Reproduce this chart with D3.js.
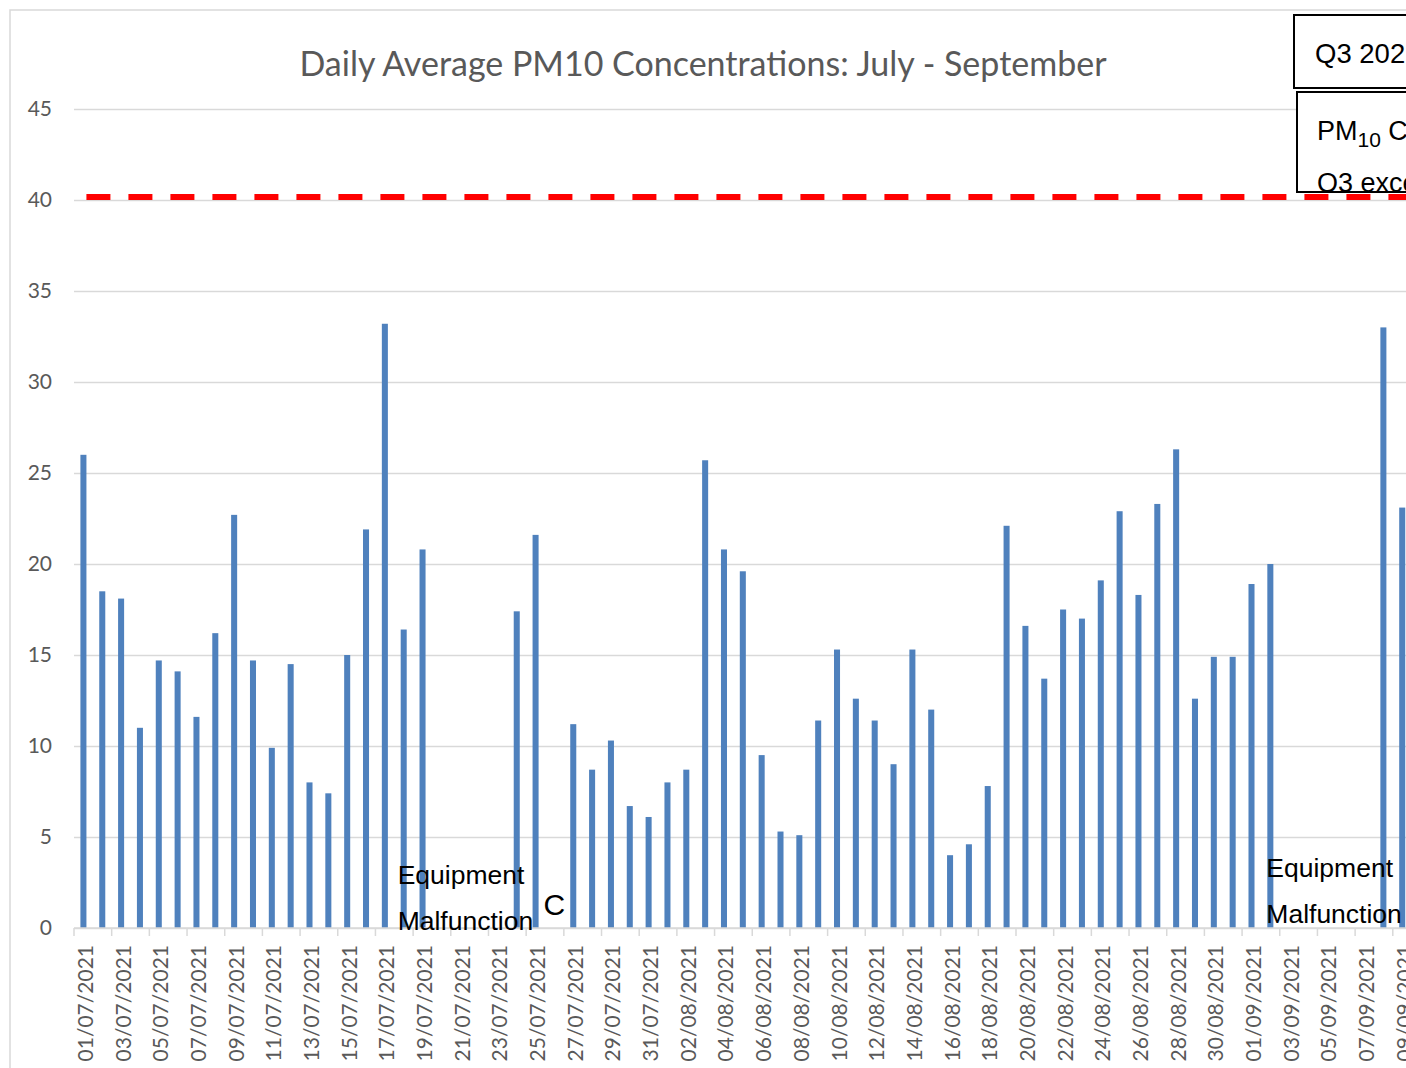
<!DOCTYPE html>
<html>
<head>
<meta charset="utf-8">
<script src="https://cdn.jsdelivr.net/npm/d3@7"></script>
<style>
  html, body { margin: 0; padding: 0; background: #fff; overflow: hidden; }
  svg { display: block; }
</style>
</head>
<body>
<svg id="chart" width="1406" height="1068"></svg>
<script>
// categories: one bar per day, 01/07/2021 .. 09/09/2021
var firstDay = new Date(2021, 6, 1);
var lastDay = new Date(2021, 8, 9);
var days = d3.timeDay.range(firstDay, d3.timeDay.offset(lastDay, 1)).map(d3.timeFormat("%d/%m/%Y"));

// daily average PM10 (null = no data)
var pm10 = [
  26.0, 18.5, 18.1, 11.0, 14.7, 14.1, 11.6, 16.2, 22.7, 14.7,
  9.9, 14.5, 8.0, 7.4, 15.0, 21.9, 33.2, 16.4, 20.8, null,
  null, null, null, 17.4, 21.6, null, 11.2, 8.7, 10.3, 6.7,
  6.1,
  8.0, 8.7, 25.7, 20.8, 19.6, 9.5, 5.3, 5.1, 11.4, 15.3,
  12.6, 11.4, 9.0, 15.3, 12.0, 4.0, 4.6, 7.8, 22.1, 16.6,
  13.7, 17.5, 17.0, 19.1, 22.9, 18.3, 23.3, 26.3, 12.6, 14.9,
  14.9,
  18.9, 20.0, null, null, null, null, null, 33.0, 23.1
];

var limitValue = 40;           // annual mean objective
var yTicks = [0, 5, 10, 15, 20, 25, 30, 35, 40, 45];

// notes written on the plot
var notes = [
  { day: "18/07/2021", lines: ["Equipment", "Malfunction"], dx: -3, dy: 0 },
  { day: "02/09/2021", lines: ["Equipment", "Malfunction"], dx: -1, dy: -7 }
];
var markC = { day: "26/07/2021", text: "C" };

var svg = d3.select("#chart");
var W = 1406;
var plotLeft = 74, step = 18.84, plotBottom = 928, plotTop = 109;

var x = d3.scaleBand()
    .domain(days)
    .range([plotLeft, plotLeft + days.length * step])
    .paddingInner(0.68)
    .paddingOuter(0.34);

var y = d3.scaleLinear().domain([0, 45]).range([plotBottom, plotTop]);

// chart frame
svg.append("rect")
    .attr("x", 10).attr("y", 10)
    .attr("width", W + 20).attr("height", 1100)
    .attr("fill", "none")
    .attr("stroke", "#d9d9d9")
    .attr("stroke-width", 1.5);

// title
svg.append("text")
    .attr("x", 703).attr("y", 76)
    .attr("text-anchor", "middle")
    .attr("font-family", "Lato, 'Open Sans', sans-serif")
    .attr("font-size", 34)
    .attr("fill", "#595959")
    .text("Daily Average PM10 Concentrations: July - September");

// gridlines + y labels
var yAxis = svg.append("g")
    .attr("transform", "translate(" + plotLeft + ",0)")
    .call(d3.axisLeft(y).tickValues(yTicks).tickSize(-(W - plotLeft)).tickPadding(22));
yAxis.select(".domain").remove();
yAxis.selectAll(".tick line").attr("stroke", "#d9d9d9").attr("stroke-width", 1.5);
yAxis.selectAll(".tick text")
    .attr("font-family", "Lato, 'Open Sans', sans-serif")
    .attr("font-size", 21)
    .attr("fill", "#595959");

// bars
svg.append("g")
  .selectAll("rect")
  .data(days.map(function (d, i) { return { day: d, v: pm10[i] }; }).filter(function (d) { return d.v != null; }))
  .enter().append("rect")
    .attr("x", function (d) { return x(d.day); })
    .attr("y", function (d) { return y(d.v); })
    .attr("width", x.bandwidth())
    .attr("height", function (d) { return y(0) - y(d.v); })
    .attr("fill", "#4f81bd");

// x axis line + ticks every two days
var xa = svg.append("g").attr("transform", "translate(0," + plotBottom + ")");
xa.append("line")
    .attr("x1", plotLeft).attr("x2", W)
    .attr("stroke", "#d9d9d9").attr("stroke-width", 1.5);
xa.selectAll("line.tk")
  .data(days.filter(function (d, i) { return i % 2 === 0; }))
  .enter().append("line")
    .attr("class", "tk")
    .attr("x1", function (d) { return x(d) - x.step() * 0.34; })
    .attr("x2", function (d) { return x(d) - x.step() * 0.34; })
    .attr("y1", 0).attr("y2", 8)
    .attr("stroke", "#d9d9d9").attr("stroke-width", 1.5);
xa.selectAll("text")
  .data(days.filter(function (d, i) { return i % 2 === 0; }))
  .enter().append("text")
    .attr("transform", function (d) {
      return "translate(" + (x(d) + x.bandwidth() / 2 + 1) + ",17) rotate(-90)";
    })
    .attr("text-anchor", "end")
    .attr("dominant-baseline", "central")
    .attr("font-family", "Lato, 'Open Sans', sans-serif")
    .attr("font-size", 21)
    .attr("fill", "#595959")
    .text(function (d) { return d; });

// limit line (dashed red)
svg.append("line")
    .attr("x1", x(days[0]) + x.bandwidth() / 2 + 3)
    .attr("x2", W)
    .attr("y1", y(limitValue) - 3)
    .attr("y2", y(limitValue) - 3)
    .attr("stroke", "#ff0000")
    .attr("stroke-width", 6)
    .attr("stroke-dasharray", "24 18");

// notes
notes.forEach(function (n) {
  var t = svg.append("text")
      .attr("font-family", "'Liberation Sans', Arial, sans-serif")
      .attr("font-size", 26.5)
      .attr("fill", "#000");
  n.lines.forEach(function (line, i) {
    t.append("tspan")
        .attr("x", x(n.day) + n.dx)
        .attr("y", 884 + n.dy + i * 46)
        .text(line);
  });
});
svg.append("text")
    .attr("x", x(markC.day) + x.bandwidth() / 2)
    .attr("y", 915)
    .attr("text-anchor", "middle")
    .attr("font-family", "'Liberation Sans', Arial, sans-serif")
    .attr("font-size", 30)
    .attr("fill", "#000")
    .text(markC.text);

// text boxes at top right
svg.append("rect")
    .attr("x", 1294).attr("y", 15).attr("width", 200).attr("height", 73)
    .attr("fill", "#fff").attr("stroke", "#000").attr("stroke-width", 2);
svg.append("text")
    .attr("x", 1315).attr("y", 63)
    .attr("font-family", "'Liberation Sans', Arial, sans-serif")
    .attr("font-size", 27.5)
    .attr("fill", "#000")
    .text("Q3 2021");

svg.append("defs").append("clipPath").attr("id", "box2clip")
  .append("rect").attr("x", 1297).attr("y", 92).attr("width", 200).attr("height", 100);
svg.append("rect")
    .attr("x", 1297).attr("y", 92).attr("width", 200).attr("height", 100)
    .attr("fill", "#fff").attr("stroke", "#000").attr("stroke-width", 2);
var b2 = svg.append("g").attr("clip-path", "url(#box2clip)")
    .attr("font-family", "'Liberation Sans', Arial, sans-serif")
    .attr("fill", "#000");
var pmLabel = b2.append("text").attr("x", 1317).attr("y", 140).attr("font-size", 27);
pmLabel.append("tspan").text("PM");
pmLabel.append("tspan").attr("font-size", 21).attr("dy", 7).text("10");
pmLabel.append("tspan").attr("dy", -7).text(" Count");
b2.append("text").attr("x", 1317).attr("y", 192).attr("font-size", 27).text("Q3 exceedances");
</script>
</body>
</html>
